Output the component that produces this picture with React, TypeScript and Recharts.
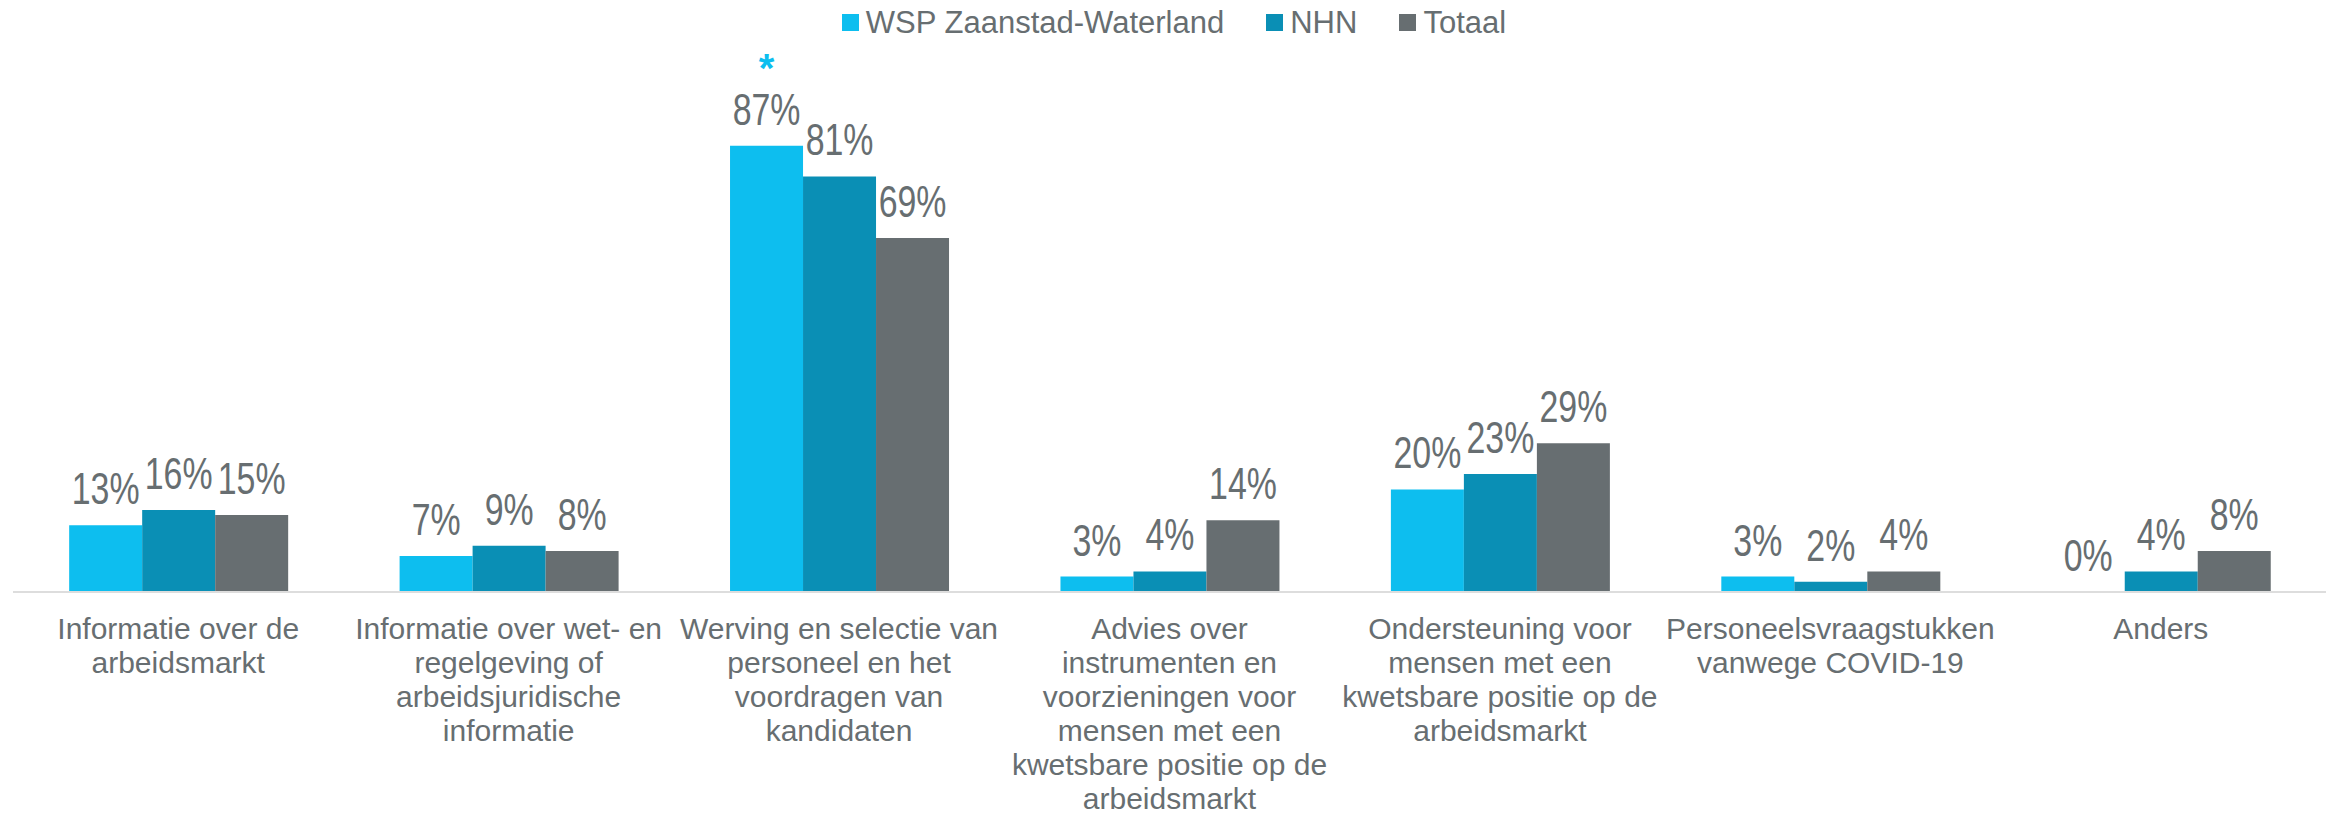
import React from "react";
import { Bar, BarChart, LabelList, XAxis, YAxis } from "recharts";

const categories = [
  "Informatie over de\narbeidsmarkt",
  "Informatie over wet- en\nregelgeving of\narbeidsjuridische\ninformatie",
  "Werving en selectie van\npersoneel en het\nvoordragen van\nkandidaten",
  "Advies over\ninstrumenten en\nvoorzieningen voor\nmensen met een\nkwetsbare positie op de\narbeidsmarkt",
  "Ondersteuning voor\nmensen met een\nkwetsbare positie op de\narbeidsmarkt",
  "Personeelsvraagstukken\nvanwege COVID-19",
  "Anders",
];

const wsp = [13, 7, 87, 3, 20, 3, 0];
const nhn = [16, 9, 81, 4, 23, 2, 4];
const totaal = [15, 8, 69, 14, 29, 4, 8];
// significant difference marker (*) above the WSP bar
const significant = [false, false, true, false, false, false, false];

const series = [
  { key: "wsp", name: "WSP Zaanstad-Waterland", color: "#0DBEEF" },
  { key: "nhn", name: "NHN", color: "#0A8FB5" },
  { key: "totaal", name: "Totaal", color: "#676E71" },
];

const TEXT = "#676E71";
const FONT = "'Liberation Sans', Arial, sans-serif";

const data = categories.map((name, i) => ({
  name,
  wsp: wsp[i],
  nhn: nhn[i],
  totaal: totaal[i],
}));

const CategoryTick = ({ x, y, payload }: any) => {
  const lines = String(payload.value).split("\n");
  return (
    <text x={x} y={y + 47} textAnchor="middle" fill={TEXT} fontSize={30} fontFamily={FONT}>
      {lines.map((line, i) => (
        <tspan key={i} x={x} dy={i === 0 ? 0 : 34}>
          {line}
        </tspan>
      ))}
    </text>
  );
};

const makeLabel = (withStar: boolean) => (props: any) => {
  const { x, y, width, value, index } = props;
  const cx = Number(x) + Number(width) / 2;
  const top = Number(y);
  return (
    <g>
      {/* narrow label font: squeeze horizontally */}
      <g transform={`translate(${cx},${top - 21}) scale(0.77,1)`}>
        <text x={0} y={0} textAnchor="middle" fill={TEXT} fontSize={44} fontFamily={FONT}>
          {`${value}%`}
        </text>
      </g>
      {withStar && significant[index] ? (
        <text x={cx} y={top - 64} textAnchor="middle" fill="#0DBEEF" fontSize={40} fontWeight="bold" fontFamily={FONT}>
          *
        </text>
      ) : null}
    </g>
  );
};

function Legend() {
  return (
    <div
      style={{
        position: "absolute",
        top: 7,
        left: 0,
        width: 2328,
        display: "flex",
        justifyContent: "center",
        paddingLeft: 20,
        boxSizing: "border-box",
        fontFamily: FONT,
        fontSize: 31,
        lineHeight: "31px",
        color: TEXT,
      }}
    >
      {series.map((s, i) => (
        <div key={s.key} style={{ display: "flex", alignItems: "center", marginLeft: i === 0 ? 0 : 42 }}>
          <span style={{ width: 17, height: 17, background: s.color, marginRight: 7, display: "inline-block" }} />
          <span>{s.name}</span>
        </div>
      ))}
    </div>
  );
}

export default function App() {
  return (
    <div style={{ position: "absolute", left: 0, top: 0, width: 2328, height: 814, background: "#fff" }}>
      <Legend />
      <BarChart
        width={2328}
        height={814}
        data={data}
        margin={{ top: 79, right: 2, bottom: 0, left: 13 }}
        barCategoryGap="17%"
        barGap={0}
      >
        <XAxis
          dataKey="name"
          interval={0}
          height={222}
          tickLine={false}
          tickSize={0}
          tickMargin={0}
          axisLine={{ stroke: "#DDDDDD", strokeWidth: 2 }}
          tick={<CategoryTick />}
        />
        <YAxis hide domain={[0, 100]} />
        {series.map((s) => (
          <Bar
            key={s.key}
            dataKey={s.key}
            name={s.name}
            fill={s.color}
            minPointSize={(v: number) => (v === 0 ? 0.01 : 0)}
            isAnimationActive={false}
          >
            <LabelList dataKey={s.key} content={makeLabel(s.key === "wsp")} />
          </Bar>
        ))}
      </BarChart>
    </div>
  );
}
